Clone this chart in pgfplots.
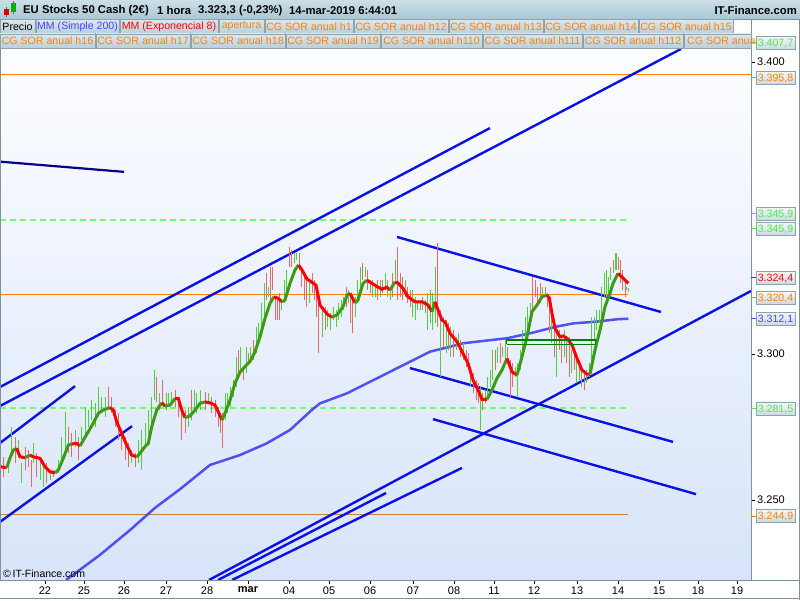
\documentclass[border=0pt]{standalone}
\usepackage{pgfplots}
\pgfplotsset{compat=1.18}
\usepackage{fontspec}
\setmainfont{Liberation Sans}
\definecolor{plotbot}{HTML}{D8E4FA}
\definecolor{frame}{HTML}{7D929C}
\definecolor{barG}{HTML}{4FCF3F}
\definecolor{barR}{HTML}{E26A6A}
\definecolor{emaG}{HTML}{3C9A14}
\definecolor{emaR}{HTML}{FF0000}
\definecolor{smaB}{HTML}{4040F4}
\definecolor{trend}{HTML}{0A10E8}
\definecolor{navy}{HTML}{00008C}
\definecolor{orng}{HTML}{FF8000}
\definecolor{lgreen}{HTML}{70FF70}
\definecolor{dgreen}{HTML}{008000}
\definecolor{hdrtop}{HTML}{CCDFE8}
\definecolor{hdrbot}{HTML}{A9C7D5}
\definecolor{boxtop}{HTML}{DCE8EE}
\definecolor{boxbot}{HTML}{BACFD9}
\definecolor{boxline}{HTML}{8CA2AC}
\definecolor{mmblue}{HTML}{4444FF}
\definecolor{txtgreen}{HTML}{44EE44}
\definecolor{vtop}{HTML}{F2F6F9}
\definecolor{vbot}{HTML}{CCD9E2}
\newcommand{\lgfont}{\fontsize{10.6}{12}\selectfont}
\newcommand{\lgbox}[5]{%
  \draw[boxline, top color=boxtop, bottom color=boxbot] (#1,#3) rectangle (#2,#3+14);
  \node[text=#5, font=\lgfont, inner sep=0pt] at ({(#1+#2)/2},#3+7) {#4};}
\newcommand{\vlab}[3]{%
  \draw[#3, line width=1pt] (751,#1) -- (756,#1);
  \draw[boxline, top color=vtop, bottom color=vbot] (756,#1-6.5) rectangle (795,#1+6.5);
  \node[text=#3, font=\lgfont, inner sep=0pt] at (775.5,#1) {#2};}
\begin{document}
\begin{tikzpicture}[x=1pt,y=1pt]
\useasboundingbox (0,0) rectangle (800,600);
\fill[white] (0,0) rectangle (800,600);
\shade[top color=white, bottom color=plotbot] (0,20) rectangle (751,582);
\begin{axis}[at={(0pt,20pt)}, anchor=south west, scale only axis,
  width=751pt, height=562pt, xmin=0, xmax=751, ymin=3222.6, ymax=3415.1,
  axis line style={draw=none}, clip mode=individual,
  xtick pos=left, ytick pos=right, yticklabel pos=right,
  tick align=outside, major tick length=4pt,
  tick style={black, line width=0.6pt},
  xtick={45,84,124,166,207,248,289,329,370,413,454,494,534,577,618,659,698,737},
  xticklabels={22,25,26,27,28,\textbf{mar},04,05,06,07,08,11,12,13,14,15,18,19},
  ytick={3250,3300,3400}, yticklabels={3.250,3.300,3.400},
  ticklabel style={font=\fontsize{11}{13}\selectfont, black},
  xticklabel style={inner sep=2.5pt},
  yticklabel style={inner sep=2pt}]
% horizontal levels
\addplot[orng, line width=1.1pt] coordinates {(0,3395.8) (751,3395.8)};
\addplot[orng, line width=1.1pt] coordinates {(0,3320.4) (628,3320.4)};
\addplot[orng!60!gray, line width=0.9pt] coordinates {(0,3244.9) (628,3244.9)};
\addplot[lgreen, line width=2.2pt, dash pattern=on 6pt off 4pt] coordinates {(0,3345.9) (627,3345.9)};
\addplot[lgreen, line width=2.2pt, dash pattern=on 6pt off 4pt] coordinates {(0,3281.5) (627,3281.5)};
% trend lines
\addplot[trend, line width=2.4pt] coordinates {(0,3288.7) (490,3377.4)};
\addplot[trend, line width=2.4pt] coordinates {(0,3282.2) (681,3404.5)};
\addplot[trend, line width=2.4pt] coordinates {(0,3269.5) (75,3289.0)};
\addplot[trend, line width=2.4pt] coordinates {(0,3242.5) (132,3275.3)};
\addplot[navy, line width=2.2pt] coordinates {(0,3365.9) (124,3362.4)};
\addplot[trend, line width=2.4pt] coordinates {(397,3340.1) (661,3314.4)};
\addplot[trend, line width=2.4pt] coordinates {(410,3295.2) (673,3269.9)};
\addplot[trend, line width=2.4pt] coordinates {(433,3277.7) (696,3252.0)};
\addplot[trend, line width=2.4pt] coordinates {(209,3222.6) (751,3321.6)};
\addplot[trend, line width=2.4pt] coordinates {(218,3222.6) (386,3252.4)};
\addplot[trend, line width=2.4pt] coordinates {(232,3222.6) (462,3261.0)};
% SMA 200
\addplot[smaB, line width=2.5pt, opacity=0.9] coordinates {
(66,3222.6) (100,3231.2) (130,3239.7) (155,3247.3) (180,3253.7) (210,3262.0) (225,3263.7)
(240,3265.4) (266.7,3269.4) (290,3274.0) (311.7,3280.8) (320,3283.1) (346.7,3286.5)
(380,3292.2) (406.7,3296.8) (430,3300.8) (450,3302.5) (463.3,3303.7) (506.7,3305.4)
(530,3307.1) (556.7,3309.4) (573.3,3310.5) (596.7,3311.1) (616.7,3311.9) (628.3,3312.1)};
% price bars
\addplot[draw=none, mark=none, forget plot, error bars/.cd, y dir=plus, y explicit,
  error mark=none, error bar style={draw=barG, line width=1pt}]
  table[x=x, y=lo, y error expr=\thisrow{hi}-\thisrow{lo}] {
x lo hi
8.3 3259.1 3262.6
11.7 3266.0 3275.1
18.3 3264.8 3270.5
21.7 3255.7 3262.6
33.3 3262.6 3269.4
40 3256.8 3263.7
43.3 3254.6 3261.4
50 3256.8 3260.3
58.3 3259.1 3263.7
61.7 3262.6 3271.7
65 3267.1 3280.2
75 3268.3 3274.0
81.7 3270.5 3275.1
85 3271.7 3282.0
88.3 3275.1 3280.8
91.7 3277.4 3284.2
95 3275.1 3283.1
98.3 3278.5 3288.8
101.7 3279.7 3285.4
105 3278.5 3285.4
131.7 3262.6 3267.1
138.3 3262.6 3270.5
141.7 3260.3 3274.0
145 3268.3 3276.3
148.3 3271.7 3280.8
151.7 3274.0 3285.4
154 3284.2 3294.5
159.3 3280.8 3286.5
166 3280.8 3286.5
168.3 3282.0 3286.5
171.7 3283.1 3287.1
188.3 3275.1 3282.0
194 3280.8 3287.7
196.7 3279.7 3286.5
200 3280.8 3287.7
208.3 3283.1 3286.5
225 3277.4 3286.5
227.3 3279.7 3286.5
230.7 3282.0 3288.8
233.3 3285.4 3291.1
236 3288.8 3299.1
240.7 3293.4 3302.5
246 3293.4 3302.5
250 3297.9 3302.5
256 3300.2 3309.4
258.3 3303.7 3310.5
261.7 3308.2 3317.4
264 3312.8 3324.2
268.7 3319.6 3323.1
281.7 3315.1 3318.5
284 3317.4 3325.3
286.7 3319.6 3328.8
294 3331.1 3334.5
296.7 3332.2 3334.5
309.3 3317.4 3324.2
322.7 3305.9 3316.2
327.3 3309.4 3315.1
330 3308.2 3313.9
333.3 3311.6 3316.2
336 3309.4 3315.1
338.3 3311.6 3317.4
341 3312.8 3318.5
343.3 3315.1 3319.6
348.3 3317.4 3321.9
355 3312.8 3319.6
357.3 3319.6 3325.3
360 3323.1 3329.9
365 3326.5 3329.9
372.7 3319.6 3325.3
375 3319.6 3323.1
380 3319.6 3325.3
385 3321.9 3327.6
387.3 3319.6 3325.3
390 3318.5 3323.1
395 3325.3 3332.2
405 3319.6 3325.3
412.7 3312.8 3321.9
415 3311.6 3319.6
417.3 3315.1 3318.5
422.7 3315.1 3319.6
427.3 3308.2 3320.8
430 3310.5 3321.9
432.7 3308.2 3320.8
435 3310.5 3329.9
440.7 3292.2 3315.1
446 3300.2 3311.6
450.7 3299.1 3309.4
456 3301.4 3305.9
458.3 3302.5 3307.1
463.3 3297.9 3303.7
470.7 3288.8 3295.7
480 3274.0 3288.8
485 3283.1 3287.7
487.3 3285.4 3292.2
490 3288.8 3294.5
492.7 3291.1 3301.4
497.3 3296.8 3302.5
502.7 3299.1 3302.5
505 3296.8 3304.8
515 3292.2 3295.7
517.3 3285.4 3296.8
520 3294.5 3301.4
522.7 3297.9 3308.2
525 3304.8 3312.8
527.3 3307.1 3316.2
530 3311.6 3317.4
542.7 3319.6 3323.1
551.7 3303.7 3313.9
556.7 3292.2 3308.2
564 3299.1 3308.2
571.7 3293.4 3301.4
576.7 3290.0 3297.9
581.7 3288.8 3294.5
586.7 3290.0 3294.5
589.3 3292.2 3296.8
591.7 3293.4 3312.8
594 3304.8 3312.8
596.7 3308.2 3315.1
599.3 3310.5 3315.1
601.7 3311.6 3323.1
604 3319.6 3327.6
606 3319.6 3328.8
608.3 3319.6 3326.5
610.7 3325.3 3329.9
615 3328.8 3334.5
616.7 3328.8 3334.5
626.7 3321.9 3323.1
628.3 3321.3 3322.5
};
\addplot[draw=none, mark=none, forget plot, error bars/.cd, y dir=plus, y explicit,
  error mark=none, error bar style={draw=barR, line width=1pt}]
  table[x=x, y=lo, y error expr=\thisrow{hi}-\thisrow{lo}] {
x lo hi
3.3 3258.0 3264.8
15 3262.6 3271.7
25 3260.3 3268.3
28.3 3261.4 3267.1
31.7 3254.6 3263.7
36.7 3258.0 3266.0
46.7 3255.7 3262.6
53.3 3258.0 3260.3
68.3 3266.0 3275.1
71.7 3264.8 3272.8
78.3 3263.7 3271.7
108.3 3280.8 3288.8
111.7 3279.7 3285.4
115 3275.1 3280.8
118.3 3270.5 3279.7
121.7 3267.1 3274.0
125 3263.7 3271.7
128.3 3261.4 3269.4
135 3261.4 3266.0
156.7 3283.7 3292.2
162.7 3283.1 3291.1
175 3282.0 3287.7
178.3 3278.5 3284.2
181.7 3270.5 3282.0
185 3272.8 3280.8
191.7 3277.4 3287.7
205 3280.8 3287.1
211.7 3279.7 3285.4
215 3278.5 3284.2
218.3 3275.1 3282.0
220.7 3272.8 3279.7
222.7 3267.7 3279.7
238.3 3293.4 3301.4
243.3 3291.1 3295.7
248.3 3296.8 3300.2
253.3 3297.9 3304.8
266.7 3318.5 3327.6
270.7 3317.4 3329.9
272.7 3321.9 3329.9
275 3311.6 3319.6
277.3 3311.6 3318.5
279.3 3311.6 3320.8
289.3 3329.9 3336.8
291.7 3329.9 3335.6
299.3 3328.8 3334.5
301.7 3323.1 3329.9
304 3318.5 3327.6
306.7 3316.2 3325.3
312 3320.8 3327.6
314.3 3318.5 3325.3
316.7 3312.8 3321.9
318.7 3300.2 3318.5
325 3308.2 3316.2
346 3316.2 3323.1
350 3310.5 3320.8
352.7 3307.1 3319.6
362.3 3325.3 3331.1
367.3 3321.9 3328.8
370 3320.8 3325.3
377.3 3318.5 3325.3
382.7 3320.8 3325.3
392.7 3319.6 3327.6
397.3 3318.5 3336.8
400 3319.6 3327.6
402.3 3318.5 3326.5
407.3 3317.4 3323.1
410 3316.2 3321.9
420 3315.1 3318.5
425 3313.9 3318.5
437.3 3309.4 3337.9
443.3 3302.5 3312.8
448.3 3301.4 3310.5
453.3 3299.1 3308.2
460.7 3299.1 3304.8
466 3295.7 3301.4
468.3 3294.5 3300.2
473.3 3286.5 3293.4
476 3284.2 3291.1
478.3 3283.1 3290.0
482.7 3280.8 3286.5
495 3294.5 3301.4
500 3296.8 3303.7
507.3 3296.8 3302.5
510 3285.4 3297.9
512.7 3288.8 3296.8
532.7 3315.1 3326.5
535 3319.6 3325.3
537.3 3317.4 3323.1
540 3317.4 3324.2
545 3319.6 3323.1
547.3 3316.2 3320.8
549.3 3307.1 3317.4
554 3299.1 3311.6
559.3 3301.4 3308.2
561.7 3296.8 3305.9
566.7 3296.8 3305.9
569.3 3292.2 3305.9
574 3294.5 3300.2
579.3 3291.1 3297.9
584 3287.7 3294.5
613.3 3327.6 3332.2
618.3 3328.8 3333.3
620.7 3324.2 3332.2
622.7 3321.9 3328.8
625 3319.6 3325.3
};
% EMA 8 segments
\addplot[emaR, line width=3pt] coordinates {(0,3261.4) (6.7,3261.1)};
\addplot[emaG, line width=3pt] coordinates {(6.7,3261.1) (10,3264.4) (13.3,3267.1) (16.7,3267.7)};
\addplot[emaR, line width=3pt] coordinates {(16.7,3267.7) (20,3264.8) (25,3264.5)};
\addplot[emaG, line width=3pt] coordinates {(25,3264.5) (30,3265.4)};
\addplot[emaR, line width=3pt] coordinates {(30,3265.4) (33.3,3264.8) (40,3264.3) (45,3261.4) (50,3259.7) (55,3259.3)};
\addplot[emaG, line width=3pt] coordinates {(55,3259.3) (58.3,3260.3) (63.3,3264.3) (68.3,3268.8) (72,3269.2)};
\addplot[emaR, line width=3pt] coordinates {(72,3269.2) (76.7,3269.4) (80,3268.5)};
\addplot[emaG, line width=3pt] coordinates {(80,3268.5) (83.3,3270.5) (88.3,3273.4) (93.3,3276.3) (98.3,3279.7) (103.3,3280.8) (110,3281.7)};
\addplot[emaR, line width=3pt] coordinates {(110,3281.7) (113.3,3280.8) (116.7,3276.8) (121.7,3272.8) (126.7,3268.8) (131.7,3265.4) (136.7,3264.8)};
\addplot[emaG, line width=3pt] coordinates {(136.7,3264.8) (140,3266.0) (145,3268.3) (148.3,3269.4) (151.7,3275.1) (156.7,3280.8) (161.7,3283.3)};
\addplot[emaR, line width=3pt] coordinates {(161.7,3283.3) (165,3282.2)};
\addplot[emaG, line width=3pt] coordinates {(165,3282.2) (170,3282.5) (175,3284.8)};
\addplot[emaR, line width=3pt] coordinates {(175,3284.8) (178.3,3284.8) (181.7,3280.8) (185,3278.2)};
\addplot[emaG, line width=3pt] coordinates {(185,3278.2) (190,3278.8) (195,3280.8) (200,3283.1) (205,3283.6)};
\addplot[emaR, line width=3pt] coordinates {(205,3283.6) (210,3283.3) (215,3282.5) (218.3,3280.2) (222,3277.4)};
\addplot[emaG, line width=3pt] coordinates {(222,3277.4) (225,3279.7) (230,3284.2) (235,3290.0) (240,3293.8) (245,3295.7) (250,3297.4) (255,3300.8) (260,3305.9) (265,3312.2) (270,3317.4) (274,3319.6)};
\addplot[emaR, line width=3pt] coordinates {(274,3319.6) (278,3319.1) (282,3317.9)};
\addplot[emaG, line width=3pt] coordinates {(282,3317.9) (285,3318.5) (290,3324.2) (295,3328.8) (298.5,3330.5)};
\addplot[emaR, line width=3pt] coordinates {(298.5,3330.5) (302,3328.8) (307,3325.7) (313,3324.3) (316,3323.6) (320,3316.8) (327,3313.7) (332,3312.6)};
\addplot[emaG, line width=3pt] coordinates {(332,3312.6) (337,3313.4) (343,3316.2) (347,3320.2) (350,3320.8)};
\addplot[emaR, line width=3pt] coordinates {(350,3320.8) (355,3317.5)};
\addplot[emaG, line width=3pt] coordinates {(355,3317.5) (358,3318.5) (363,3324.2) (367,3325.3)};
\addplot[emaR, line width=3pt] coordinates {(367,3325.3) (372,3324.2) (377,3323.1) (382,3322.2) (387,3322.9) (390,3321.9)};
\addplot[emaG, line width=3pt] coordinates {(390,3321.9) (395,3324.7)};
\addplot[emaR, line width=3pt] coordinates {(395,3324.7) (398,3324.3) (403,3322.5) (408,3319.6) (415,3317.9) (422,3317.9) (428,3316.8) (432,3314.5)};
\addplot[emaG, line width=3pt] coordinates {(432,3314.5) (435,3317.9)};
\addplot[emaR, line width=3pt] coordinates {(435,3317.9) (438,3315.1) (442,3311.6) (445,3311.0) (450,3307.1) (457,3304.2) (463,3300.2) (468,3296.8) (473,3291.1) (478,3287.7) (482,3284.5) (487,3284.5)};
\addplot[emaG, line width=3pt] coordinates {(487,3284.5) (492,3287.7) (497,3291.7) (502,3294.5) (507,3298.5)};
\addplot[emaR, line width=3pt] coordinates {(507,3298.5) (512,3293.9) (517,3292.8)};
\addplot[emaG, line width=3pt] coordinates {(517,3292.8) (522,3299.1) (527,3305.9) (532,3314.5) (537,3316.8) (542,3319.6) (547,3320.2)};
\addplot[emaR, line width=3pt] coordinates {(547,3320.2) (549.3,3319.2) (552,3313.9) (555,3308.8) (560,3305.9) (563,3306.2) (567,3305.4) (572,3303.1) (577,3298.5) (582,3294.5) (587,3293.1) (590,3293.1)};
\addplot[emaG, line width=3pt] coordinates {(590,3293.1) (595,3301.4) (600,3308.2) (605,3316.2) (610,3320.8) (613,3324.2) (618,3327.6)};
\addplot[emaR, line width=3pt] coordinates {(618,3327.6) (622,3326.4) (627,3324.7) (628.3,3324.2)};
% dark green box
\addplot[dgreen, line width=1.3pt] coordinates {(506.7,3303.3) (595.7,3303.3) (595.7,3304.8) (506.7,3304.8) (506.7,3303.3)};
\end{axis}
% frame lines
\draw[frame, line width=1pt] (0,19.5) -- (800,19.5);
\draw[frame, line width=1pt] (751,19.5) -- (751,581);
\draw[frame, line width=1pt] (0.5,19.5) -- (0.5,581);
\draw[frame, line width=1pt] (0,1.5) -- (800,1.5);
\draw[frame, line width=1pt] (799.5,0) -- (799.5,581);
% copyright
\node[anchor=west, font=\fontsize{10.5}{12}\selectfont, inner sep=0pt] at (3,26) {\textcopyright\,IT-Finance.com};
% right value labels
\vlab{557}{3.407,7}{txtgreen}
\vlab{522}{3.395,8}{orng}
\vlab{386}{3.345,9}{txtgreen}
\vlab{371}{3.345,9}{txtgreen}
\vlab{322}{3.324,4}{emaR}
\vlab{302}{3.320,4}{orng}
\vlab{281}{3.312,1}{mmblue}
\vlab{191}{3.281,5}{txtgreen}
\vlab{84}{3.244,9}{orng}
% header bar
\shade[top color=hdrtop, bottom color=hdrbot] (0,581) rectangle (800,600);
\draw[frame] (0,581) -- (800,581);
% icon
\draw[black!60, line width=0.6pt] (6.5,583) -- (6.5,593);
\fill[red!85!black] (4,585) rectangle (9,591);
\draw[black!60, line width=0.6pt] (13.5,586) -- (13.5,599);
\fill[green!70!black] (11,588) rectangle (16,597);
\begin{scope}[font=\fontsize{11.3}{13}\selectfont\bfseries]
\node[anchor=west, inner sep=0pt] at (23,589.5) {EU Stocks 50 Cash (2€)};
\node[anchor=west, inner sep=0pt] at (157,589.5) {1 hora};
\node[anchor=west, inner sep=0pt] at (198,589.5) {3.323,3 (-0,23\%)};
\node[anchor=west, inner sep=0pt] at (289,589.5) {14-mar-2019 6:44:01};
\node[anchor=east, inner sep=0pt] at (797,589.5) {IT-Finance.com};
\end{scope}
% legend row 1
\lgbox{0}{35}{566.5}{Precio}{black}
\lgbox{36}{119}{566.5}{MM (Simple 200)}{mmblue}
\lgbox{120}{218}{566.5}{MM (Exponencial 8)}{red}
\lgbox{219}{264}{566.5}{apertura}{orng}
\lgbox{265}{353}{566.5}{CG SOR anual h1}{orng}
\lgbox{354}{448}{566.5}{CG SOR anual h12}{orng}
\lgbox{449}{543}{566.5}{CG SOR anual h13}{orng}
\lgbox{544}{638}{566.5}{CG SOR anual h14}{orng}
\lgbox{639}{733}{566.5}{CG SOR anual h15}{orng}
% legend row 2
\lgbox{0}{95}{552}{CG SOR anual h16}{orng}
\lgbox{96}{190}{552}{CG SOR anual h17}{orng}
\lgbox{191}{285}{552}{CG SOR anual h18}{orng}
\lgbox{286}{380}{552}{CG SOR anual h19}{orng}
\lgbox{381}{482}{552}{CG SOR anual h110}{orng}
\lgbox{483}{582}{552}{CG SOR anual h111}{orng}
\lgbox{583}{683}{552}{CG SOR anual h112}{orng}
\draw[boxline, top color=boxtop, bottom color=boxbot] (684,552) rectangle (751,566);
\node[text=orng, font=\lgfont, inner sep=0pt, anchor=west] at (687,559) {CG SOR anua};
\end{tikzpicture}
\end{document}
